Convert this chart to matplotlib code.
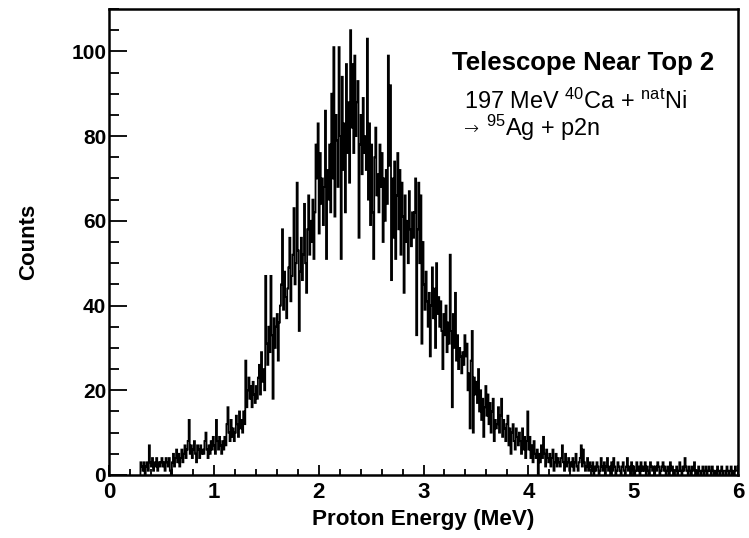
import numpy as np
import matplotlib
matplotlib.use("Agg")
import matplotlib.pyplot as plt
from matplotlib.ticker import MultipleLocator

plt.rcParams['font.family'] = ['Liberation Sans', 'DejaVu Sans']
plt.rcParams['mathtext.fontset'] = 'custom'
plt.rcParams['mathtext.rm'] = 'Liberation Sans'

# Histogram: 0.01 MeV bins from 0.00 to 6.00 MeV; counts start at 0.30 MeV
bin_start = 0.30
bin_width = 0.01
counts = [
    3, 2, 1, 3, 0, 2, 3, 1, 7, 3,          # 0.30
    2, 4, 1, 3, 2, 4, 1, 3, 2, 3,          # 0.40
    4, 2, 3, 1, 4, 3, 2, 4, 1, 0,          # 0.50
    3, 5, 2, 4, 6, 3, 5, 2, 4, 6,          # 0.60
    3, 5, 7, 4, 6, 8, 13, 5, 7, 4,         # 0.70
    6, 8, 5, 3, 7, 6, 4, 7, 5, 6,          # 0.80
    5, 8, 10, 6, 4, 7, 5, 8, 6, 9,         # 0.90
    7, 5, 13, 8, 6, 9, 7, 5, 8, 6,         # 1.00
    9, 7, 12, 16, 10, 8, 13, 9, 11, 8,     # 1.10
    10, 14, 12, 9, 15, 11, 13, 10, 15, 12, # 1.20
    27, 16, 20, 23, 18, 21, 16, 22, 19, 17,  # 1.30
    21, 18, 23, 26, 19, 29, 22, 25, 20, 47,  # 1.40
    31, 26, 35, 29, 47, 33, 18, 37, 30, 35,  # 1.50
    38, 27, 36, 40, 45, 58, 39, 48, 42, 37,  # 1.60
    44, 49, 56, 41, 47, 52, 63, 45, 50, 69,  # 1.70
    53, 34, 48, 56, 46, 52, 64, 50, 43, 58,  # 1.80
    66, 52, 60, 55, 65, 51, 62, 78, 70, 83,  # 1.90
    57, 76, 64, 70, 59, 68, 86, 51, 72, 65,  # 2.00
    78, 62, 90, 70, 101, 61, 85, 79, 68, 101,  # 2.10
    80, 51, 94, 72, 83, 62, 97, 76, 88, 69,  # 2.20
    105, 82, 97, 76, 99, 80, 88, 93, 56, 78,  # 2.30
    85, 71, 89, 76, 80, 72, 103, 65, 83, 59,  # 2.40
    78, 62, 51, 75, 82, 66, 71, 62, 78, 68,  # 2.50
    76, 55, 70, 60, 72, 64, 99, 73, 92, 46,  # 2.60
    70, 56, 74, 51, 66, 76, 58, 72, 52, 69,  # 2.70
    61, 43, 66, 55, 60, 50, 67, 58, 54, 62,  # 2.80
    56, 62, 70, 33, 58, 69, 50, 66, 31, 55,  # 2.90
    45, 39, 48, 41, 35, 43, 28, 40, 49, 37,  # 3.00
    44, 30, 50, 38, 42, 35, 41, 34, 25, 38,  # 3.10
    33, 40, 29, 36, 31, 52, 34, 16, 38, 30,  # 3.20
    43, 27, 33, 25, 30, 28, 24, 29, 26, 33,  # 3.30
    28, 31, 20, 24, 11, 27, 34, 10, 23, 19,  # 3.40
    22, 17, 25, 15, 20, 13, 18, 9, 16, 21,   # 3.50
    14, 19, 12, 17, 10, 15, 18, 8, 13, 11,   # 3.60
    12, 16, 10, 14, 18, 9, 13, 11, 8, 12,    # 3.70
    14, 7, 11, 5, 10, 12, 8, 6, 11, 9,       # 3.80
    7, 10, 8, 5, 11, 6, 9, 4, 8, 15,         # 3.90
    6, 9, 4, 7, 3, 8, 5, 4, 6, 0,            # 4.00
    5, 3, 7, 4, 9, 5, 2, 6, 4, 3,            # 4.10
    5, 2, 4, 6, 1, 3, 5, 2, 4, 3,            # 4.20
    2, 4, 7, 3, 1, 5, 2, 3, 4, 1,            # 4.30
    3, 2, 4, 1, 3, 5, 2, 1, 3, 4,            # 4.40
    7, 2, 6, 3, 1, 2, 4, 1, 3, 2,            # 4.50
    1, 3, 0, 2, 1, 3, 2, 0, 1, 4,            # 4.60
    2, 1, 3, 0, 2, 4, 1, 2, 0, 3,            # 4.70
    1, 4, 2, 0, 1, 3, 2, 1, 0, 2,            # 4.80
    3, 1, 0, 2, 4, 1, 2, 0, 3, 1,            # 4.90
    2, 0, 1, 3, 1, 2, 0, 3, 1, 2,            # 5.00
    1, 3, 0, 2, 1, 0, 3, 2, 1, 2,            # 5.10
    0, 2, 1, 3, 2, 0, 1, 2, 3, 1,            # 5.20
    2, 0, 1, 2, 0, 3, 1, 2, 0, 1,            # 5.30
    1, 2, 0, 1, 3, 1, 0, 2, 1, 4,            # 5.40
    2, 1, 0, 2, 1, 0, 2, 1, 3, 0,            # 5.50
    1, 0, 2, 1, 0, 1, 2, 0, 1, 2,            # 5.60
    0, 1, 2, 1, 0, 2, 1, 0, 1, 0,            # 5.70
    2, 1, 0, 1, 2, 0, 1, 1, 0, 2,            # 5.80
    1, 0, 1, 2, 0, 1, 0, 2, 1, 1,            # 5.90
]

x_label = "Proton Energy (MeV)"
y_label = "Counts"
title_text = "Telescope Near Top 2"
reaction_line1 = r"197 MeV $\mathregular{^{40}}$Ca + $\mathregular{^{nat}}$Ni"
reaction_line2 = r"$\mathregular{^{95}}$Ag + p2n"

edges = bin_start + bin_width * np.arange(len(counts) + 1)

W, H = 749, 538
fig = plt.figure(figsize=(W / 100, H / 100), dpi=100)
ax = fig.add_axes([109 / W, 1 - 475 / H, (738 - 109) / W, (475 - 9) / H])

ax.stairs(counts, edges, color='black', lw=1.3)

ax.set_xlim(0, 6)
ax.set_ylim(0, 110)
ax.xaxis.set_major_locator(MultipleLocator(1))
ax.xaxis.set_minor_locator(MultipleLocator(0.2))
ax.yaxis.set_major_locator(MultipleLocator(20))
ax.yaxis.set_minor_locator(MultipleLocator(5))
ax.tick_params(which='both', direction='in', width=1.3, colors='black')
ax.tick_params(axis='y', which='major', length=13)
ax.tick_params(axis='y', which='minor', length=7)
ax.tick_params(axis='x', which='major', length=7.5)
ax.tick_params(axis='x', which='minor', length=4)
ax.tick_params(axis='x', which='both', top=False, pad=5, labelsize=16)
ax.tick_params(axis='y', which='both', right=False, pad=2, labelsize=15)
for lab in ax.get_xticklabels() + ax.get_yticklabels():
    lab.set_fontweight('bold')
for s in ax.spines.values():
    s.set_linewidth(1.8)

ax.set_xlabel(x_label, fontsize=16.2, fontweight='bold', labelpad=4)
ax.set_ylabel(y_label, fontsize=16, fontweight='bold', labelpad=23)

ax.text(3.27, 95.5, title_text, fontsize=18.5, fontweight='bold', va='baseline')
ax.text(3.39, 86.4, reaction_line1, fontsize=16.9, va='baseline')
ax.text(3.39, 80.4, "\u2192", fontsize=13, va='baseline', family='DejaVu Sans',
        fontweight='light')
ax.text(3.60, 80.1, reaction_line2, fontsize=16.9, va='baseline')

fig.savefig("out.png", dpi=100)
